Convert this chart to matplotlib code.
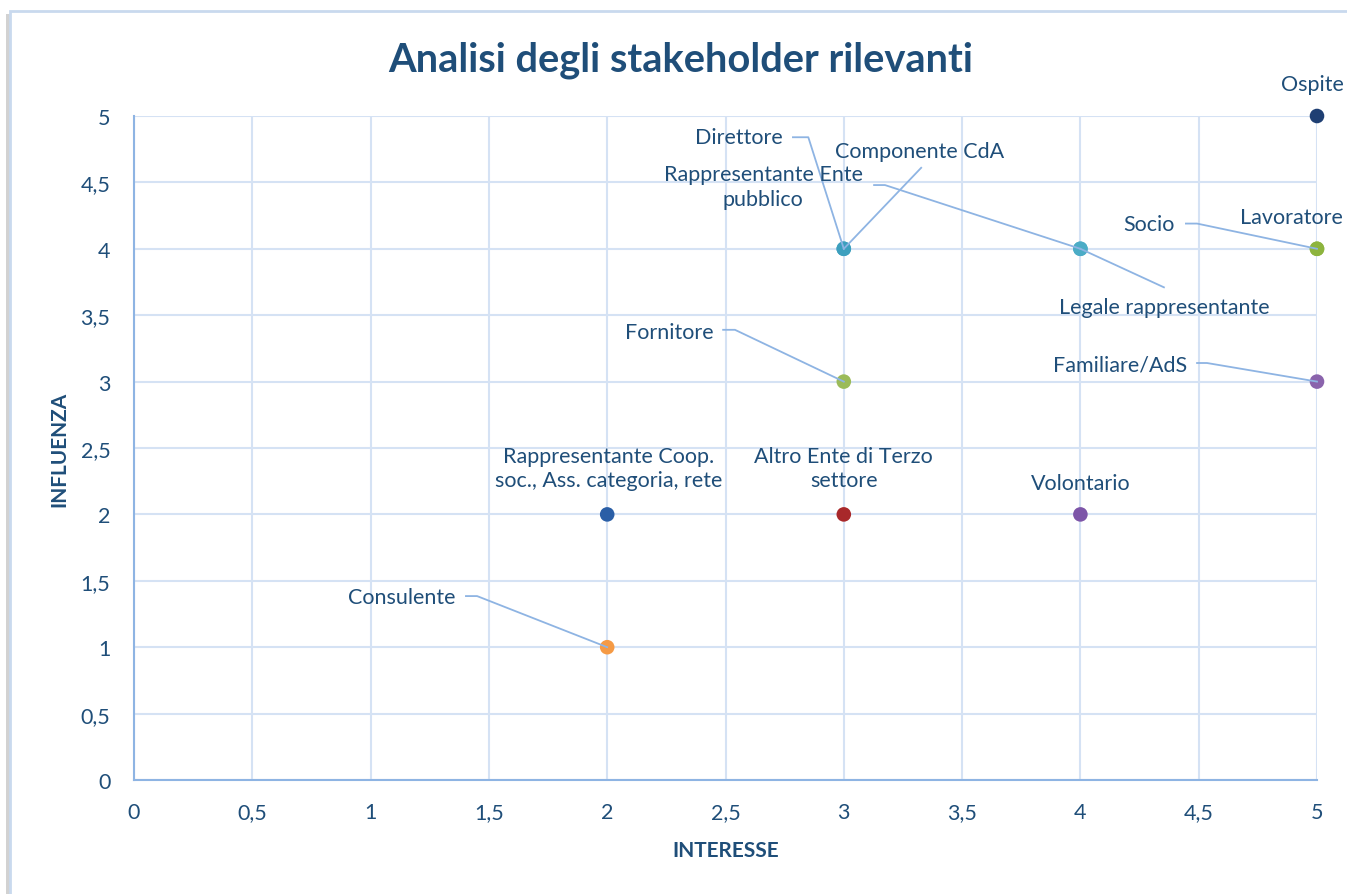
import matplotlib
matplotlib.use("Agg")
import matplotlib.pyplot as plt
import matplotlib.patheffects as pe
from matplotlib.patches import Rectangle

plt.rcParams['font.family'] = ['Lato', 'DejaVu Sans']

# data
names = ["Ospite", "Lavoratore", "Socio", "Familiare/AdS", "Legale rappresentante",
         "Rappresentante Ente\npubblico", "Direttore", "Componente CdA", "Fornitore",
         "Rappresentante Coop.\nsoc., Ass. categoria, rete", "Altro Ente di Terzo\nsettore",
         "Volontario", "Consulente"]
interesse = [5, 5, 5, 5, 4, 4, 3, 3, 3, 2, 3, 4, 2]
influenza = [5, 4, 4, 3, 4, 4, 4, 4, 3, 2, 2, 2, 1]
colors = ["#1F3F73", "#8DB43E", "#8DB43E", "#8A63AC", "#4BACC6", "#4BACC6", "#3C9FBE",
          "#3C9FBE", "#9BBB59", "#2A5EA6", "#A8282A", "#7D55A8", "#F59A45"]
xticks = [0, 0.5, 1, 1.5, 2, 2.5, 3, 3.5, 4, 4.5, 5]
yticks = [0, 0.5, 1, 1.5, 2, 2.5, 3, 3.5, 4, 4.5, 5]

# label placement: (text x, text y, ha, leader points or None)
labels = {
    "Ospite": (4.98, 5.24, "center", None),
    "Lavoratore": (4.89, 4.24, "center", None),
    "Socio": (4.40, 4.19, "right", [(4.446, 4.19), (4.493, 4.19)]),
    "Familiare/AdS": (4.45, 3.13, "right", [(4.493, 3.14), (4.535, 3.14)]),
    "Legale rappresentante": (4.353, 3.56, "center", [(4.353, 3.71)]),
    "Rappresentante Ente\npubblico": (2.66, 4.47, "center", [(3.128, 4.48), (3.174, 4.48)]),
    "Direttore": (2.74, 4.84, "right", [(2.785, 4.84), (2.85, 4.84)]),
    "Componente CdA": (3.32, 4.74, "center", [(3.327, 4.61)]),
    "Fornitore": (2.45, 3.37, "right", [(2.49, 3.39), (2.54, 3.39)]),
    "Rappresentante Coop.\nsoc., Ass. categoria, rete": (2.008, 2.35, "center", None),
    "Altro Ente di Terzo\nsettore": (3.0, 2.35, "center", None),
    "Volontario": (4.0, 2.24, "center", None),
    "Consulente": (1.36, 1.378, "right", [(1.403, 1.385), (1.45, 1.385)]),
}

text_col = "#1F4E79"
grid_col = "#D5E2F4"
axis_col = "#8EB4E3"
lead_col = "#8EB4E3"
fs = 15.5

fig = plt.figure(figsize=(13.47, 8.95), dpi=100)
border = Rectangle((10 / 1347, -0.05), 1.2, (895 - 12) / 895 + 0.05,
                   transform=fig.transFigure, facecolor="white",
                   edgecolor="#C9D9EE", linewidth=2, zorder=-10,
                   path_effects=[pe.SimplePatchShadow(offset=(-3, -2), alpha=0.25), pe.Normal()])
fig.patches.append(border)
ax = fig.add_axes([134 / 1347, (895 - 781) / 895, (1317 - 134) / 1347, (781 - 117) / 895])
ax.set_facecolor("none")

for nm, x, y, c in zip(names, interesse, influenza, colors):
    ax.plot(x, y, "o", color=c, markersize=10.5, markeredgewidth=0, zorder=4, clip_on=False,
            path_effects=[pe.SimpleLineShadow(offset=(1, -2), alpha=0.35, shadow_color="#444444"),
                          pe.Normal()])
    tx, ty, ha, lead = labels[nm]
    ax.text(tx, ty, nm, ha=ha, va="center", color=text_col, fontsize=fs,
            linespacing=1.3, zorder=6, clip_on=False)
    if lead:
        px = [p[0] for p in lead] + [x]
        py = [p[1] for p in lead] + [y]
        ax.plot(px, py, color=lead_col, linewidth=1.3, zorder=5, clip_on=False)

ax.set_xlim(0, 5)
ax.set_ylim(0, 5)
ax.set_xticks(xticks)
ax.set_yticks(yticks)
ax.set_xticklabels([("%g" % t).replace(".", ",") for t in xticks])
ax.set_yticklabels([("%g" % t).replace(".", ",") for t in yticks])
ax.tick_params(length=0, labelsize=fs, labelcolor=text_col)
ax.tick_params(axis="x", pad=16)
ax.tick_params(axis="y", pad=17)
ax.grid(True, color=grid_col, linewidth=1.5, zorder=0)
ax.set_axisbelow(True)
for s in ["top", "right"]:
    ax.spines[s].set_visible(False)
for s in ["left", "bottom"]:
    ax.spines[s].set_color(axis_col)
    ax.spines[s].set_linewidth(1.5)

ax.set_xlabel("INTERESSE", fontsize=15, fontweight="bold", color=text_col, labelpad=13)
ax.set_ylabel("INFLUENZA", fontsize=15, fontweight="bold", color=text_col, labelpad=8)
fig.text(0.505, 0.933, "Analisi degli stakeholder rilevanti", ha="center", va="center",
         fontsize=28.7, fontweight="bold", color=text_col)

fig.savefig("out.png", dpi=100)
